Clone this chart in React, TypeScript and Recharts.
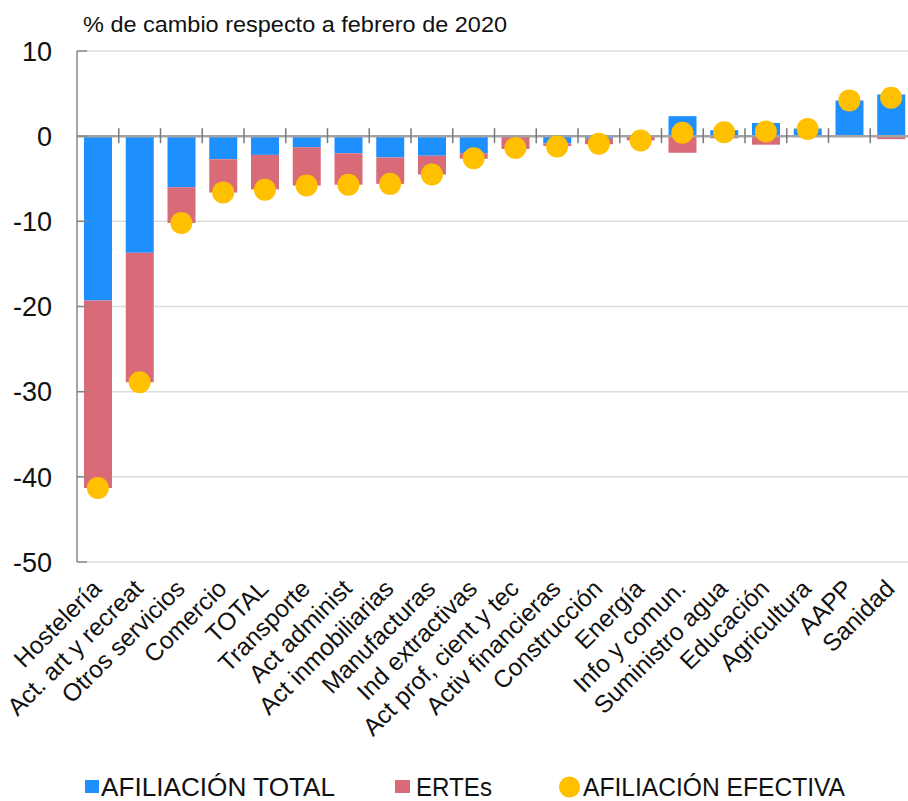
import React from 'react';
import {
  ComposedChart,
  Bar,
  Line,
  XAxis,
  YAxis,
  CartesianGrid,
  ReferenceLine,
} from 'recharts';

const categories = [
  'Hostelería',
  'Act. art y recreat',
  'Otros servicios',
  'Comercio',
  'TOTAL',
  'Transporte',
  'Act administ',
  'Act inmobiliarias',
  'Manufacturas',
  'Ind extractivas',
  'Act prof, cient y tec',
  'Activ financieras',
  'Construcción',
  'Energía',
  'Info y comun.',
  'Suministro agua',
  'Educación',
  'Agricultura',
  'AAPP',
  'Sanidad',
];

const afiliacionTotal = [
  -19.3, -13.7, -6.0, -2.7, -2.2, -1.3, -2.0, -2.5, -2.3, -2.0,
  -0.1, -0.85, -0.3, -0.1, 2.35, 0.7, 1.55, 0.9, 4.2, 4.9,
];

const ertes = [
  -22.0, -15.2, -4.2, -3.9, -4.05, -4.5, -3.7, -3.1, -2.2, -0.65,
  -1.4, -0.3, -0.65, -0.4, -1.95, -0.25, -1.0, -0.05, 0, -0.35,
];

const afiliacionEfectiva = [
  -41.3, -28.9, -10.2, -6.6, -6.3, -5.8, -5.7, -5.6, -4.5, -2.6,
  -1.4, -1.2, -0.9, -0.5, 0.4, 0.45, 0.55, 0.85, 4.2, 4.5,
];

const yTicks = [-50, -40, -30, -20, -10, 0, 10];

const titleText = '% de cambio respecto a febrero de 2020';
const legendLabels = ['AFILIACIÓN TOTAL', 'ERTEs', 'AFILIACIÓN EFECTIVA'];

const BLUE = '#1E8FFF';
const RED = '#D96B78';
const YELLOW = '#FFC000';
const FONT = '"Liberation Sans", Arial, Helvetica, sans-serif';

const data = categories.map((name, i) => ({
  name,
  total: afiliacionTotal[i],
  ertes: ertes[i],
  efectiva: afiliacionEfectiva[i],
}));

const YTick = (props: any) => {
  const { x, y, payload } = props;
  return (
    <g>
      <line x1={x + 25} x2={x + 35} y1={y} y2={y} stroke="#888" strokeWidth={1.5} />
      <text
        x={x}
        y={y}
        dy="0.36em"
        textAnchor="end"
        fontSize={27}
        fontFamily={FONT}
        fill="#111"
      >
        {payload.value}
      </text>
    </g>
  );
};

const XTick = (props: any) => {
  const { x, y, payload } = props;
  const ax = x + 5;
  const ay = y;
  return (
    <text
      x={ax}
      y={ay}
      textAnchor="end"
      fontSize={24.5}
      fontFamily={FONT}
      fill="#111"
      transform={`rotate(-45, ${ax}, ${ay})`}
    >
      {payload.value}
    </text>
  );
};

const ZeroAxis = (props: any) => {
  const { x1, y1, x2 } = props;
  const n = categories.length;
  const step = (x2 - x1) / n;
  const ticks = [];
  for (let i = 1; i < n; i++) {
    const tx = x1 + step * i;
    ticks.push(
      <line key={i} x1={tx} x2={tx} y1={y1 - 8} y2={y1 + 7} stroke="#7a7a7a" strokeWidth={1.5} />
    );
  }
  return (
    <g>
      <line x1={x1} x2={x2} y1={y1} y2={y1} stroke="#a3a3a3" strokeWidth={2.5} />
      {ticks}
    </g>
  );
};

const LegendBox = () => (
  <svg
    width={908}
    height={45}
    style={{ position: 'absolute', left: 0, top: 756, display: 'block' }}
  >
    <rect x={85} y={24} width={14} height={13} fill={BLUE} />
    <text
      x={101}
      y={40}
      fontSize={25}
      fontFamily={FONT}
      fill="#111"
      textLength={234}
      lengthAdjust="spacingAndGlyphs"
    >
      {legendLabels[0]}
    </text>
    <rect x={395} y={24} width={15} height={13} fill={RED} />
    <text
      x={416}
      y={40}
      fontSize={25}
      fontFamily={FONT}
      fill="#111"
      textLength={76}
      lengthAdjust="spacingAndGlyphs"
    >
      {legendLabels[1]}
    </text>
    <circle cx={569.5} cy={31} r={10.5} fill={YELLOW} />
    <text
      x={583}
      y={40}
      fontSize={25}
      fontFamily={FONT}
      fill="#111"
      textLength={262}
      lengthAdjust="spacingAndGlyphs"
    >
      {legendLabels[2]}
    </text>
  </svg>
);

const TitleBox = () => (
  <svg
    width={600}
    height={45}
    style={{ position: 'absolute', left: 0, top: 0, display: 'block' }}
  >
    <text
      x={83}
      y={32}
      fontSize={22}
      fontFamily={FONT}
      fill="#111"
      textLength={424}
      lengthAdjust="spacingAndGlyphs"
    >
      {titleText}
    </text>
  </svg>
);

export default function App() {
  return (
    <div
      style={{
        position: 'absolute',
        left: 0,
        top: 0,
        width: 908,
        height: 801,
        overflow: 'hidden',
        background: '#fff',
      }}
    >
      <ComposedChart
        width={920}
        height={801}
        data={data}
        stackOffset="sign"
        margin={{ top: 51, right: 8, left: 0, bottom: 45 }}
        barSize={28}
      >
        <CartesianGrid vertical={false} stroke="#dcdcdc" strokeWidth={1.5} />
        <XAxis
          dataKey="name"
          interval={0}
          axisLine={false}
          tickLine={false}
          tickSize={0}
          tickMargin={28}
          height={194}
          tick={<XTick />}
        />
        <YAxis
          domain={[-50, 10]}
          ticks={yTicks}
          interval={0}
          width={77}
          axisLine={{ stroke: '#888', strokeWidth: 1.5 }}
          tickLine={false}
          tickSize={0}
          tickMargin={25}
          tick={<YTick />}
        />
        <Bar dataKey="total" stackId="a" fill={BLUE} isAnimationActive={false} />
        <Bar dataKey="ertes" stackId="a" fill={RED} isAnimationActive={false} />
        <ReferenceLine y={0} shape={<ZeroAxis />} />
        <Line
          dataKey="efectiva"
          stroke="none"
          strokeWidth={0}
          dot={{ r: 11, fill: YELLOW, stroke: 'none' }}
          activeDot={false}
          isAnimationActive={false}
        />
      </ComposedChart>
      <TitleBox />
      <LegendBox />
    </div>
  );
}
